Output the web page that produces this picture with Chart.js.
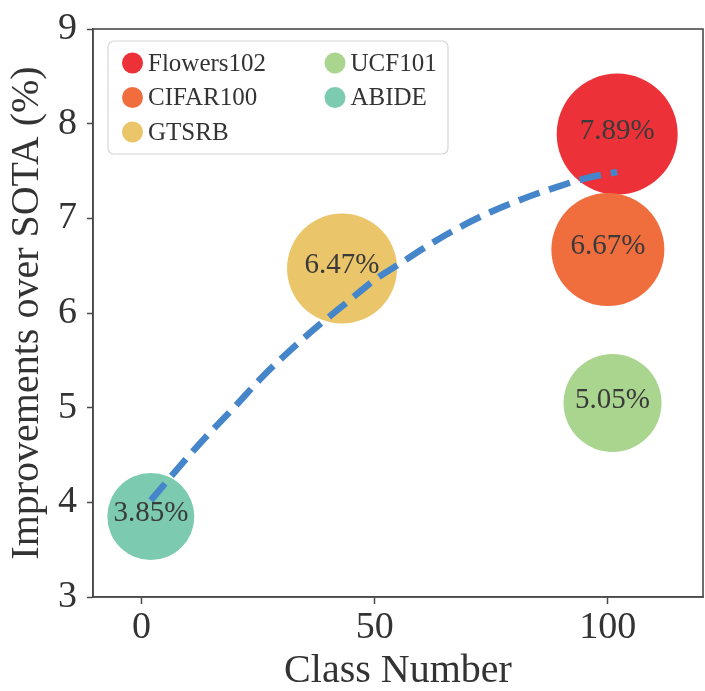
<!DOCTYPE html>
<html>
<head>
<meta charset="utf-8">
<script src="https://cdn.jsdelivr.net/npm/chart.js@4.4.1/dist/chart.umd.min.js"></script>
<style>
  html, body { margin: 0; padding: 0; background: #ffffff; }
  #wrap { width: 705px; height: 691px; }
</style>
</head>
<body>
<div id="wrap"><canvas id="chart" width="705" height="691"></canvas></div>
<script>
// Datasets: number of classes vs. improvement over SOTA (%)
const datasetNames = ['Flowers102', 'CIFAR100', 'GTSRB', 'UCF101', 'ABIDE'];
const classCounts = [102, 100, 43, 101, 2];
const improvements = [7.89, 6.67, 6.47, 5.05, 3.85];
const bubbleRadius = [60.5, 56.5, 55, 49, 43.5];

// Fitted trend curve (dashed)
const trendX = [2, 8, 14, 20, 26, 32, 38, 44, 50, 56, 62, 68, 75, 82, 89, 95, 102];
const trendY = [4.02, 4.37, 4.70, 5.01, 5.33, 5.61, 5.87, 6.11, 6.35, 6.54, 6.73, 6.90, 7.07, 7.21, 7.33, 7.42, 7.49];

// Axis ticks
const xTicks = [0, 50, 100];
const yTicks = [3, 4, 5, 6, 7, 8, 9];

const bubbleColors = ['#ec3238', '#f06d3e', '#ebc56a', '#aad58f', '#7ccab0'];
const trendColor = '#4585c9';
const serif = '"Liberation Serif", "Times New Roman", Times, serif';
const axisColor = '#4a4a4a';
const textColor = '#333333';

const datasets = datasetNames.map((name, i) => ({
  type: 'bubble',
  label: name,
  data: [{ x: classCounts[i], y: improvements[i], r: bubbleRadius[i] }],
  backgroundColor: bubbleColors[i],
  borderWidth: 0,
  hoverRadius: 0,
  order: 10 - i
}));

datasets.push({
  type: 'line',
  label: 'trend',
  data: trendX.map((x, i) => ({ x: x, y: trendY[i] })),
  borderColor: trendColor,
  borderWidth: 6.5,
  borderDash: [22, 10],
  borderCapStyle: 'butt',
  pointRadius: 0,
  fill: false,
  cubicInterpolationMode: 'monotone',
  order: 0
});

// Box around the plot area (top and right edges)
const frame = {
  id: 'frame',
  afterDraw(chart) {
    const { ctx, chartArea: a } = chart;
    ctx.save();
    ctx.strokeStyle = axisColor;
    ctx.lineWidth = 1.6;
    ctx.strokeRect(a.left, a.top, a.right - a.left, a.bottom - a.top);
    ctx.restore();
  }
};

// Percentage labels at each bubble centre
const bubbleLabels = {
  id: 'bubbleLabels',
  afterDatasetsDraw(chart) {
    const { ctx } = chart;
    ctx.save();
    ctx.font = '29px ' + serif;
    ctx.fillStyle = '#3a3a3a';
    ctx.textAlign = 'center';
    ctx.textBaseline = 'middle';
    datasetNames.forEach((name, i) => {
      const el = chart.getDatasetMeta(i).data[0];
      ctx.fillText(improvements[i].toFixed(2) + '%', el.x, el.y - 3);
    });
    ctx.restore();
  }
};

// Two-column legend inside the plot, upper left
const boxLegend = {
  id: 'boxLegend',
  afterDraw(chart) {
    const { ctx, chartArea: a } = chart;
    const left = a.left + 15, top = a.top + 12, w = 340, h = 113, rad = 6;
    ctx.save();
    ctx.beginPath();
    ctx.roundRect(left, top, w, h, rad);
    ctx.fillStyle = 'rgba(255,255,255,0.8)';
    ctx.fill();
    ctx.strokeStyle = '#d6d6d6';
    ctx.lineWidth = 1.2;
    ctx.stroke();
    ctx.font = '25px ' + serif;
    ctx.textBaseline = 'middle';
    ctx.textAlign = 'left';
    datasetNames.forEach((name, i) => {
      const col = Math.floor(i / 3), row = i % 3;
      const cx = left + 24.5 + col * 202.5;
      const cy = top + 22 + row * 34.5;
      ctx.beginPath();
      ctx.arc(cx, cy, 10.5, 0, Math.PI * 2);
      ctx.fillStyle = bubbleColors[i];
      ctx.fill();
      ctx.fillStyle = textColor;
      ctx.fillText(name, cx + 15.5, cy + 1);
    });
    ctx.restore();
  }
};

new Chart(document.getElementById('chart'), {
  data: { datasets: datasets },
  options: {
    responsive: false,
    animation: false,
    events: [],
    layout: { autoPadding: false, padding: { top: 21, right: 2, left: 0, bottom: 0 } },
    plugins: {
      legend: { display: false },
      tooltip: { enabled: false }
    },
    scales: {
      x: {
        type: 'linear',
        min: -10.4,
        max: 120.4,
        afterBuildTicks(scale) { scale.ticks = xTicks.map(v => ({ value: v })); },
        afterFit(scale) { scale.height = 94; },
        grid: { drawOnChartArea: false, drawTicks: true, tickLength: 7, tickWidth: 1.5, color: axisColor },
        border: { display: true, color: axisColor, width: 1.6 },
        ticks: { font: { family: serif, size: 38, lineHeight: 1 }, color: textColor, padding: 5, maxRotation: 0 },
        title: {
          display: true,
          text: 'Class Number',
          font: { family: serif, size: 40, lineHeight: 1 },
          color: textColor,
          padding: { top: 0, bottom: 0 }
        }
      },
      y: {
        type: 'linear',
        min: 3,
        max: 9,
        afterBuildTicks(scale) { scale.ticks = yTicks.map(v => ({ value: v })); },
        afterFit(scale) { scale.width = 93; },
        grid: { drawOnChartArea: false, drawTicks: true, tickLength: 6, tickWidth: 1.5, color: axisColor },
        border: { display: true, color: axisColor, width: 1.6 },
        ticks: { font: { family: serif, size: 38, lineHeight: 1 }, color: textColor, padding: 10 },
        title: {
          display: true,
          text: 'Improvements over SOTA (%)',
          font: { family: serif, size: 40, lineHeight: 1 },
          color: textColor,
          padding: { top: 7, bottom: 0 }
        }
      }
    }
  },
  plugins: [frame, bubbleLabels, boxLegend]
});
</script>
</body>
</html>
